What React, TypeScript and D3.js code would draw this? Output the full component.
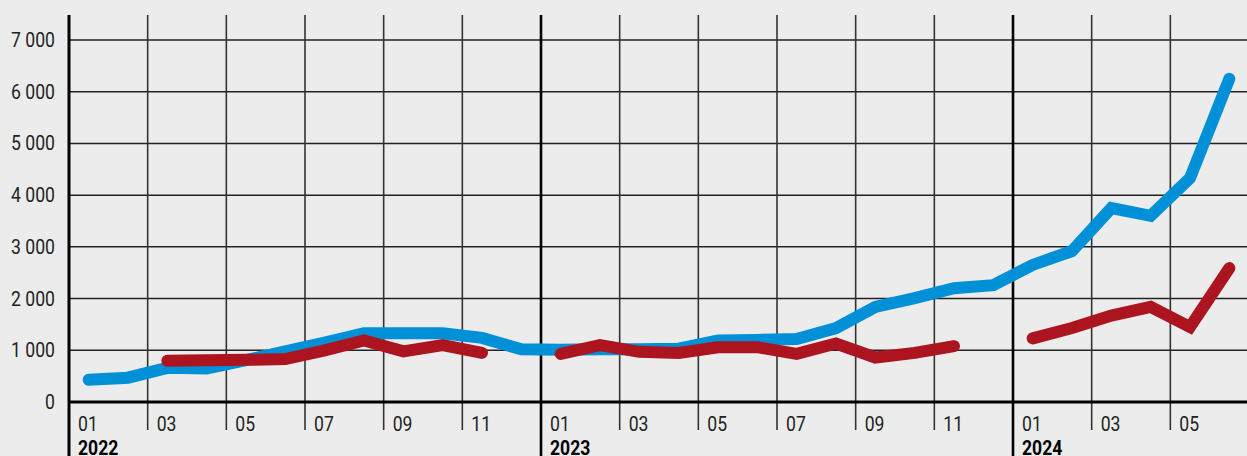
import React from "react";
import * as d3 from "d3";

const startYear = 2022;
const monthCount = 30;
const yearLabels = ["2022", "2023", "2024"];
const monthLabels = ["01", "03", "05", "07", "09", "11"];
const yTicks = [0, 1000, 2000, 3000, 4000, 5000, 6000, 7000];

// monthly values Jan 2022 .. Jun 2024
const blueSeries: (number | null)[] = [
  430, 470, 660, 650, 810, 980, 1150, 1330, 1330, 1330, 1240, 1020,
  1010, 1020, 1020, 1030, 1190, 1200, 1220, 1430, 1840, 2010, 2200, 2260,
  2650, 2920, 3750, 3600, 4330, 6250,
];
const redSeries: (number | null)[] = [
  null, null, 800, 805, 815, 830, 1000, 1190, 980, 1100, 950, null,
  930, 1100, 970, 950, 1060, 1060, 930, 1130, 860, 950, 1080, null,
  1230, 1430, 1670, 1840, 1450, 2590,
];

const W = 1247;
const H = 456;
const left = 69;
const top = 15;
const baseY = 402;

const fmt = d3.formatLocale({ thousands: " ", grouping: [3], decimal: ",", currency: ["", ""] }).format(",");

export default function App() {
  const x = d3.scaleLinear().domain([0, monthCount]).range([left, 1249]);
  const y = d3.scaleLinear().domain([0, 7000]).range([baseY, baseY - 7000 * 0.05171]);

  const line = d3
    .line<number | null>()
    .defined((d) => d !== null)
    .x((_, i) => x(i + 0.5))
    .y((d) => y(d as number));

  const font = "Roboto, 'Liberation Sans', sans-serif";
  const sx = 0.88;

  const monthLines: number[] = [];
  for (let i = 0; i <= monthCount; i += 2) monthLines.push(i);

  return (
    <svg
      width={W}
      height={H}
      style={{ position: "fixed", left: 0, top: 0, display: "block" }}
    >
      <rect x={0} y={0} width={W} height={H} fill="#ececec" />
      {/* horizontal grid */}
      {yTicks
        .filter((t) => t > 0)
        .map((t) => (
          <line key={t} x1={left} x2={W} y1={y(t)} y2={y(t)} stroke="#222" strokeWidth={1.5} />
        ))}
      {/* vertical grid */}
      {monthLines.map((m) => {
        const isYear = m % 12 === 0;
        if (isYear) return null;
        return (
          <g key={m}>
            <line x1={x(m)} x2={x(m)} y1={top} y2={430} stroke="#333" strokeWidth={1.6} />
          </g>
        );
      })}
      {/* year lines */}
      {yearLabels.map((_, k) => (
        <line key={k} x1={x(k * 12)} x2={x(k * 12)} y1={top} y2={H} stroke="#000" strokeWidth={k === 0 ? 3 : 2.6} />
      ))}
      {/* baseline */}
      <line x1={left} x2={W} y1={baseY} y2={baseY} stroke="#000" strokeWidth={3} />
      {/* y labels */}
      {yTicks.map((t) => (
        <text
          key={t}
          transform={`translate(55,${y(t) + 7}) scale(${sx},1)`}
          textAnchor="end"
          fontFamily={font}
          fontSize={20}
          fill="#222"
        >
          {fmt(t)}
        </text>
      ))}
      {/* month labels */}
      {monthLines
        .filter((m) => m < monthCount)
        .map((m) => (
          <text
            key={m}
            transform={`translate(${x(m) + 9},431) scale(${sx},1)`}
            fontFamily={font}
            fontSize={20}
            fill="#222"
          >
            {monthLabels[(m % 12) / 2]}
          </text>
        ))}
      {/* year labels */}
      {yearLabels.map((yl, k) => (
        <text
          key={yl}
          transform={`translate(${x(k * 12) + 9},455) scale(${sx},1)`}
          fontFamily={font}
          fontSize={20}
          fontWeight="bold"
          fill="#000"
        >
          {yl}
        </text>
      ))}
      <path d={line(blueSeries) || ""} fill="none" stroke="#0090d8" strokeWidth={12} strokeLinecap="round" strokeLinejoin="miter" />
      <path d={line(redSeries) || ""} fill="none" stroke="#ac1520" strokeWidth={12} strokeLinecap="round" strokeLinejoin="miter" />
    </svg>
  );
}
